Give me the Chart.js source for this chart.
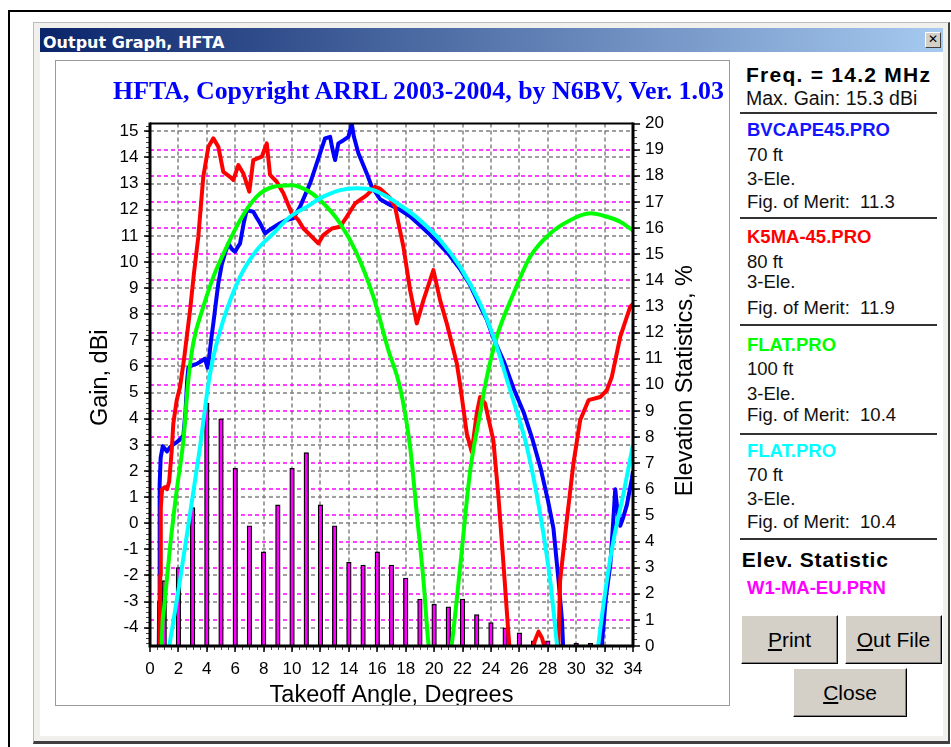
<!DOCTYPE html>
<html><head><meta charset="utf-8"><title>Output Graph, HFTA</title>
<script src="https://cdn.jsdelivr.net/npm/chart.js@4.4.1/dist/chart.umd.min.js"></script>
<style>
html,body{margin:0;padding:0;background:#fff;}
body{width:951px;height:747px;position:relative;overflow:hidden;font-family:"Liberation Sans",Arial,sans-serif;color:#111;}
.a{position:absolute;white-space:pre;line-height:1;}
#outer{left:8px;top:10px;width:960px;height:760px;border-left:2px solid #000;border-top:2px solid #000;}
#win{left:33px;top:22px;width:917px;height:722px;box-sizing:border-box;background:#F1F0EC;border:1px solid #BCBCBC;border-right:2px solid #404040;border-bottom:3px solid #404040;}
#tbar{left:40px;top:28px;width:903px;height:24px;background:linear-gradient(to right,#0A246A,#A6CAF0);}
#wtitle{left:43px;top:35px;font-family:"DejaVu Sans";font-weight:bold;font-size:16px;color:#fff;}
#wbody{left:40px;top:52px;width:903px;height:684px;background:#fff;}
#xbtn{left:925px;top:32px;width:16px;height:16px;box-sizing:border-box;background:#D4D0C8;border:1px solid;border-color:#fff #404040 #404040 #fff;font:bold 12px "DejaVu Sans";text-align:center;line-height:13px;color:#000;}
#panel{left:55px;top:60px;width:675px;height:646px;box-sizing:border-box;border:1px solid #9A9A9A;background:#fff;}
#cv{position:absolute;left:56px;top:61px;}
#title{left:113px;top:78px;font-family:"Liberation Serif";font-weight:bold;font-size:25.9px;color:#0000FF;}
.t{font-size:18.5px;left:747px;color:#111;}
.b{font-weight:bold;}
.sep{position:absolute;left:740px;width:197px;height:2px;background:#333;}
.btn{position:absolute;box-sizing:border-box;background:#D4D0C8;border:1px solid;border-color:#fff #000 #000 #fff;box-shadow:inset -1px -1px 0 #808080;font-size:21px;text-align:center;color:#000;line-height:47px;}
</style></head><body>
<div id="outer" class="a"></div>
<div id="win" class="a"></div>
<div id="tbar" class="a"></div>
<div id="wtitle" class="a">Output Graph, HFTA</div>
<div id="xbtn" class="a">✕</div>
<div id="wbody" class="a"></div>
<div id="panel" class="a"></div>
<canvas id="cv" width="673" height="644"></canvas>
<div id="title" class="a">HFTA, Copyright ARRL 2003-2004, by N6BV, Ver. 1.03</div>

<div class="a b" style="left:746px;top:63.6px;font-size:21px;letter-spacing:1.25px;color:#000;">Freq. = 14.2 MHz</div>
<div class="a" style="left:746px;top:88.8px;font-size:19.5px;color:#111;">Max. Gain: 15.3 dBi</div>
<div class="sep" style="top:112.3px"></div>
<div class="a t b" style="top:121.3px;color:#1414FF;">BVCAPE45.PRO</div>
<div class="a t" style="top:146.3px;">70 ft</div>
<div class="a t" style="top:170.3px;">3-Ele.</div>
<div class="a t" style="top:193px;">Fig. of Merit:  11.3</div>
<div class="sep" style="top:217.3px"></div>
<div class="a t b" style="top:228px;color:#FF0000;">K5MA-45.PRO</div>
<div class="a t" style="top:253px;">80 ft</div>
<div class="a t" style="top:273px;">3-Ele.</div>
<div class="a t" style="top:299px;">Fig. of Merit:  11.9</div>
<div class="sep" style="top:324px"></div>
<div class="a t b" style="top:336.3px;color:#00FF00;">FLAT.PRO</div>
<div class="a t" style="top:359.6px;">100 ft</div>
<div class="a t" style="top:384.6px;">3-Ele.</div>
<div class="a t" style="top:406.3px;">Fig. of Merit:  10.4</div>
<div class="sep" style="top:433.3px"></div>
<div class="a t b" style="top:442px;color:#00FFFF;">FLAT.PRO</div>
<div class="a t" style="top:466.3px;">70 ft</div>
<div class="a t" style="top:489.6px;">3-Ele.</div>
<div class="a t" style="top:513px;">Fig. of Merit:  10.4</div>
<div class="sep" style="top:538.3px"></div>
<div class="a b" style="left:741.7px;top:549.3px;font-size:21px;letter-spacing:0.8px;color:#000;">Elev. Statistic</div>
<div class="a t b" style="top:578.6px;color:#FF00FF;">W1-MA-EU.PRN</div>
<div class="btn" style="left:741px;top:615px;width:97px;height:49px;"><u>P</u>rint</div>
<div class="btn" style="left:845px;top:615px;width:97px;height:49px;"><u>O</u>ut File</div>
<div class="btn" style="left:793px;top:668px;width:114px;height:49px;"><u>C</u>lose</div>

<script>
// ---- tick labels ----
const angleTicks = [0,2,4,6,8,10,12,14,16,18,20,22,24,26,28,30,32,34];
const gainTicks = [-4,-3,-2,-1,0,1,2,3,4,5,6,7,8,9,10,11,12,13,14,15];
const statTicks = [0,1,2,3,4,5,6,7,8,9,10,11,12,13,14,15,16,17,18,19,20];

// ---- elevation statistics (W1-MA-EU.PRN), % ----
const statAngles = [1,2,3,4,5,6,7,8,9,10,11,12,13,14,15,16,17,18,19,20,21,22,23,24,25,26,27,28,29,30,31];
const statPct = [2.5,3.0,5.3,9.3,8.7,6.8,4.6,3.6,5.4,6.8,7.4,5.4,4.6,3.2,3.1,3.6,3.1,2.6,1.8,1.6,1.5,1.8,1.2,0.9,0.7,0.5,0.2,0.2,0.05,0.1,0.1];

// ---- BVCAPE45.PRO, 70 ft (blue) ----
const blueAngle = [0.62,0.64,0.68,0.75,0.9,1.05,1.2,1.4,1.6,1.88,2.1,2.35,2.5,2.62,2.7,3.0,3.29,3.6,3.87,4.05,4.15,4.3,4.46,4.65,4.81,5.05,5.28,5.52,5.75,5.99,6.15,6.34,6.6,6.81,7.05,7.27,7.5,7.75,8.1,8.35,8.57,9.15,9.6,10.09,10.56,11.27,11.97,12.32,12.68,12.85,13.03,13.26,13.6,13.97,14.2,14.35,14.67,15.26,15.61,16.2,16.9,17.6,18.3,19.0,19.7,20.4,21.1,21.8,22.5,23.2,23.7,24.2,24.9,25.6,26.3,26.9,27.5,28.0,28.4,28.76,29.0,29.08,30.4,31.8,32.1,32.4,32.6,32.75,32.9,33.1,33.3,33.57,33.92,34];
const blueGain = [-4.7,-3.0,1.5,2.5,2.95,2.85,2.75,2.9,3.0,3.1,3.2,3.35,4.3,5.5,5.95,6.05,6.1,6.2,6.3,5.95,6.3,7.0,7.65,8.5,9.18,9.9,10.33,10.7,10.5,10.39,10.55,10.71,11.5,11.99,11.95,11.92,11.7,11.48,11.09,11.2,11.28,11.48,11.6,11.67,12.11,13.01,14.16,14.73,14.79,14.3,13.9,14.54,14.65,14.79,15.3,14.8,14.16,13.39,12.88,12.4,12.18,12.0,11.75,11.4,11.05,10.65,10.25,9.75,9.15,8.35,7.8,7.05,6.2,5.15,4.25,3.25,2.1,0.9,-0.2,-2.2,-3.7,-4.7,null,-4.7,-2.8,-1.6,0.0,1.3,0.5,-0.1,0.2,0.7,1.7,2.0];

// ---- K5MA-45.PRO, 80 ft (red) ----
const redAngle = [0.68,0.72,0.76,0.85,1.06,1.2,1.35,1.53,1.64,1.88,2.11,2.4,2.82,3.1,3.4,3.75,4.11,4.46,4.81,5.16,5.63,5.87,6.22,6.57,6.99,7.27,7.87,8.22,8.45,8.92,9.39,9.98,10.45,10.8,11.27,11.85,12.2,12.8,13.38,13.85,14.44,15.26,15.85,16.2,16.9,17.25,17.84,18.31,18.78,19.25,19.95,20.42,20.89,21.6,21.83,22.3,22.65,23.0,23.24,23.59,24.17,24.53,24.88,25.23,25.3,26.2,27.0,27.1,27.35,27.6,27.75,28.2,28.75,28.87,29.34,29.81,30.28,30.87,31.69,32.16,32.51,33.1,33.8,34];
const redGain = [-4.7,-2.0,0.6,1.3,1.38,1.3,1.6,2.79,3.81,4.71,5.2,6.3,8.15,9.6,10.96,13.26,14.41,14.73,14.41,13.45,13.26,13.14,13.71,13.39,12.69,13.9,14.03,14.54,13.33,13.07,12.63,11.86,11.6,11.28,11.03,10.71,11.03,11.28,11.35,11.73,12.24,12.56,12.88,12.8,12.45,12.11,10.58,8.92,7.65,8.54,9.69,8.54,7.65,6.11,5.3,3.43,2.73,4.2,4.83,4.58,3.17,1.0,-1.55,-4.23,-4.7,null,-4.7,-4.49,-4.15,-4.4,-4.7,null,-4.7,-2.19,0.11,2.3,3.94,4.71,4.83,5.09,5.6,7.13,8.28,8.4];

// ---- FLAT.PRO, 100 ft (green) ----
const greenAngle = [0.82,0.88,1.0,1.41,1.88,2.35,2.7,3.05,3.75,4.46,5.4,6.34,7.51,8.68,9.98,11.03,11.97,13.38,14.55,15.73,16.78,17.6,18.31,18.78,19.25,19.6,19.63,20.4,21.22,21.25,21.83,22.54,23.24,23.6,24.41,25.59,26.76,28.17,29.58,30.99,32.16,33.1,34];
const greenGain = [-4.7,-3.8,-3.2,-0.91,1.26,3.17,5.5,6.9,8.28,9.43,10.58,11.6,12.5,12.88,12.94,12.75,12.37,11.48,10.33,8.66,6.62,5.2,2.92,0.37,-2.19,-4.6,-4.7,null,-4.7,-4.6,-1.68,2.02,4.2,5.3,7.13,8.79,10.2,11.09,11.6,11.86,11.73,11.54,11.2];

// ---- FLAT.PRO, 70 ft (cyan) ----
const cyanAngle = [1.36,1.6,2.11,2.82,3.52,4.1,4.46,5.16,6.34,7.51,8.68,9.86,11.03,12.2,13.38,14.55,15.73,16.9,17.6,19.01,20.42,21.83,23.24,24.18,25.35,26.53,27.46,28.17,28.64,28.66,30.1,31.55,31.57,32.16,32.63,33.33,33.92,34];
const cyanGain = [-4.7,-3.9,-2.19,0.37,2.92,5.3,6.37,7.77,9.43,10.45,11.09,11.73,12.11,12.5,12.75,12.82,12.75,12.43,12.18,11.6,10.84,9.81,8.41,7.13,5.09,2.92,0.37,-2.19,-4.6,-4.7,null,-4.7,-4.6,-2.19,-0.65,1.13,2.79,3.0];

const GAIN_MIN = -4.7, GAIN_MAX = 15.3, STAT_MIN = 0, STAT_MAX = 20, ANG_MIN = 0, ANG_MAX = 34;

function pts(xs, ys) { return xs.map((x, i) => ({x: x, y: ys[i]})); }

const FONT = '"Liberation Sans", Arial, sans-serif';

const hfPlugin = {
  id: 'hftaFrame',
  beforeDatasetsDraw(chart) {
    const {ctx, chartArea: a, scales: {x, y, y2}} = chart;
    ctx.save();
    ctx.beginPath();
    ctx.rect(a.left, a.top, a.right - a.left, a.bottom - a.top);
    ctx.clip();
    ctx.lineWidth = 1.5;
    ctx.setLineDash([4, 3]);
    ctx.strokeStyle = '#808080';
    ctx.beginPath();
    angleTicks.forEach(v => {
      if (v <= ANG_MIN || v >= ANG_MAX) return;
      const p = Math.round(x.getPixelForValue(v));
      ctx.moveTo(p, a.top); ctx.lineTo(p, a.bottom);
    });
    ctx.stroke();
    ctx.beginPath();
    gainTicks.forEach(v => {
      const p = Math.round(y.getPixelForValue(v));
      ctx.moveTo(a.left, p); ctx.lineTo(a.right, p);
    });
    ctx.stroke();
    ctx.strokeStyle = '#FF00FF';
    ctx.beginPath();
    statTicks.forEach(v => {
      if (v <= STAT_MIN || v >= STAT_MAX) return;
      const p = Math.round(y2.getPixelForValue(v));
      ctx.moveTo(a.left, p); ctx.lineTo(a.right, p);
    });
    ctx.stroke();
    ctx.restore();
  },
  afterDatasetsDraw(chart) {
    const {ctx, chartArea: a, scales: {x, y, y2}} = chart;
    ctx.save();
    ctx.setLineDash([]);
    ctx.strokeStyle = '#444';
    ctx.lineWidth = 1;
    ctx.beginPath();
    for (let i = -23; i <= 76; i++) {
      const p = Math.round(y.getPixelForValue(i / 5)) + 0.5;
      ctx.moveTo(a.left - 4, p); ctx.lineTo(a.left, p);
    }
    for (let i = 1; i < 80; i++) {
      const p = Math.round(y2.getPixelForValue(i / 4)) + 0.5;
      ctx.moveTo(a.right, p); ctx.lineTo(a.right + 4, p);
    }
    for (let i = 1; i < 68; i++) {
      const p = Math.round(x.getPixelForValue(i / 2)) + 0.5;
      ctx.moveTo(p, a.bottom); ctx.lineTo(p, a.bottom + 4);
    }
    ctx.stroke();
    ctx.strokeStyle = '#000';
    ctx.lineWidth = 1.5;
    ctx.beginPath();
    gainTicks.forEach(v => { const p = Math.round(y.getPixelForValue(v)); ctx.moveTo(a.left - 6, p); ctx.lineTo(a.left, p); });
    statTicks.forEach(v => { const p = Math.round(y2.getPixelForValue(v)); ctx.moveTo(a.right, p); ctx.lineTo(a.right + 7, p); });
    angleTicks.forEach(v => { const p = Math.round(x.getPixelForValue(v)); ctx.moveTo(p, a.bottom); ctx.lineTo(p, a.bottom + 6); });
    ctx.stroke();
    ctx.lineWidth = 2;
    ctx.beginPath();
    ctx.moveTo(a.left, a.top); ctx.lineTo(a.right, a.top);
    ctx.stroke();
    ctx.lineWidth = 3;
    ctx.beginPath();
    ctx.moveTo(a.left, a.top - 1); ctx.lineTo(a.left, a.bottom + 1.5);
    ctx.moveTo(a.left - 1.5, a.bottom); ctx.lineTo(a.right + 1.5, a.bottom);
    ctx.moveTo(a.right, a.top - 1); ctx.lineTo(a.right, a.bottom + 1.5);
    ctx.stroke();
    ctx.fillStyle = '#000';
    ctx.font = '23.5px ' + FONT;
    ctx.textAlign = 'center';
    ctx.textBaseline = 'alphabetic';
    ctx.fillText('Takeoff Angle, Degrees', (a.left + a.right) / 2, a.bottom + 55.7);
    ctx.save();
    ctx.translate(a.left - 43, (a.top + a.bottom) / 2 - 7);
    ctx.rotate(-Math.PI / 2);
    ctx.fillText('Gain, dBi', 0, 0);
    ctx.restore();
    ctx.save();
    ctx.translate(a.right + 59, (a.top + a.bottom) / 2 - 4);
    ctx.rotate(-Math.PI / 2);
    ctx.fillText('Elevation Statistics, %', 0, 0);
    ctx.restore();
    ctx.restore();
  }
};

const tickFont = {family: FONT, size: 17};

new Chart(document.getElementById('cv'), {
  type: 'line',
  data: {
    datasets: [
      {type: 'bar', label: 'W1-MA-EU.PRN', data: pts(statAngles, statPct), xAxisID: 'x', yAxisID: 'y2',
       backgroundColor: '#FF00FF', borderColor: '#000000', borderWidth: 1.3, barThickness: 4.6, borderSkipped: 'start', order: 10},
      {label: 'BVCAPE45.PRO 70 ft', data: pts(blueAngle, blueGain), xAxisID: 'x', yAxisID: 'y', borderColor: '#0000FF', tension: 0, order: 4},
      {label: 'K5MA-45.PRO 80 ft', data: pts(redAngle, redGain), xAxisID: 'x', yAxisID: 'y', borderColor: '#FF0000', tension: 0, order: 3},
      {label: 'FLAT.PRO 100 ft', data: pts(greenAngle, greenGain), xAxisID: 'x', yAxisID: 'y', borderColor: '#00FF00', cubicInterpolationMode: 'monotone', order: 2},
      {label: 'FLAT.PRO 70 ft', data: pts(cyanAngle, cyanGain), xAxisID: 'x', yAxisID: 'y', borderColor: '#00FFFF', cubicInterpolationMode: 'monotone', order: 1}
    ]
  },
  options: {
    responsive: false,
    animation: false,
    devicePixelRatio: 1,
    events: [],
    layout: {padding: {top: 62.5, left: 0, right: 0, bottom: 0}},
    datasets: {line: {borderWidth: 4, pointRadius: 0, fill: false, spanGaps: false, clip: 0, borderJoinStyle: 'round', borderCapStyle: 'butt'}},
    plugins: {legend: {display: false}, tooltip: {enabled: false}, title: {display: false}},
    scales: {
      x: {type: 'linear', position: 'bottom', min: ANG_MIN, max: ANG_MAX, offset: false,
          grid: {display: false, drawTicks: false}, border: {display: false},
          ticks: {font: tickFont, color: '#000', padding: 13, maxRotation: 0, autoSkip: false},
          afterBuildTicks: s => { s.ticks = angleTicks.map(v => ({value: v})); },
          afterFit: s => { s.height = 59; }},
      y: {type: 'linear', position: 'left', min: GAIN_MIN, max: GAIN_MAX,
          grid: {display: false, drawTicks: false}, border: {display: false},
          ticks: {font: tickFont, color: '#000', padding: 11.5, autoSkip: false},
          afterBuildTicks: s => { s.ticks = gainTicks.map(v => ({value: v})); },
          afterFit: s => { s.width = 94; }},
      y2: {type: 'linear', position: 'right', min: STAT_MIN, max: STAT_MAX,
          grid: {display: false, drawTicks: false}, border: {display: false},
          ticks: {font: tickFont, color: '#000', padding: 12, autoSkip: false},
          afterBuildTicks: s => { s.ticks = statTicks.map(v => ({value: v})); },
          afterFit: s => { s.width = 96; }}
    }
  },
  plugins: [hfPlugin]
});
</script>
</body></html>
